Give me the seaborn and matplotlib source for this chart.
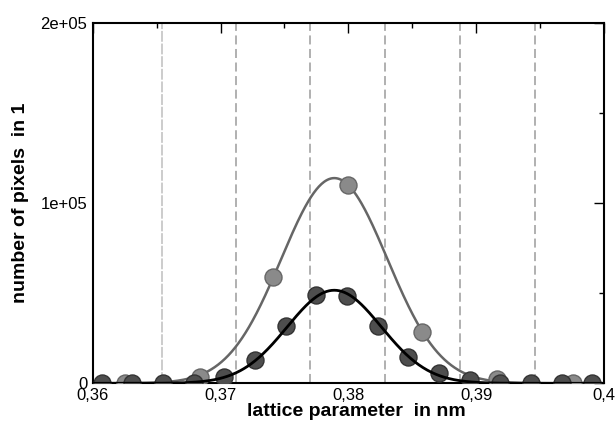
import numpy as np
import pandas as pd
import matplotlib
matplotlib.use("Agg")
import matplotlib.pyplot as plt
from matplotlib.ticker import FixedLocator
import seaborn as sns

# Fine-sampled histogram (black fit)
fine_x = [0.3607, 0.3631, 0.3655, 0.3679, 0.3703, 0.3727, 0.3751, 0.3775, 0.3799,
          0.3823, 0.3847, 0.3871, 0.3895, 0.3919, 0.3943, 0.3967, 0.3991]
fine_counts = [0, 0, 0, 300, 3300, 12900, 31900, 49300, 48500,
               31900, 14700, 5500, 1800, 300, 0, 0, 0]

# Coarse histogram (grey fit), bin centres
coarse_x = [0.3625, 0.3684, 0.3741, 0.3800, 0.3858, 0.3916, 0.3976]
coarse_counts = [0, 3600, 58900, 110400, 28400, 2300, 0]

# Coarse bin edges
bin_edges = [0.3654, 0.3712, 0.3770, 0.3829, 0.3887, 0.3946]

# Gaussian fit parameters: amplitude, centre, sigma
fine_fit = (51700, 0.3789, 0.00368)
coarse_fit = (114000, 0.3789, 0.00415)

x_ticks = [0.36, 0.37, 0.38, 0.39, 0.40]
x_tick_labels = ["0,36", "0,37", "0,38", "0,39", "0,4"]
y_ticks = [0, 100000, 200000]
y_tick_labels = ["0", "1e+05", "2e+05"]


def gauss_curve(params, xs):
    a, mu, sig = params
    return a * np.exp(-0.5 * ((xs - mu) / sig) ** 2)


xs = np.linspace(0.36, 0.40, 600)
fit_df = pd.DataFrame({
    "x": xs,
    "fine": gauss_curve(fine_fit, xs),
    "coarse": gauss_curve(coarse_fit, xs),
})
fine_df = pd.DataFrame({"x": fine_x, "n": fine_counts})
coarse_df = pd.DataFrame({"x": coarse_x, "n": coarse_counts})

sns.set_theme(style="white")
plt.rcParams["font.family"] = ["Liberation Sans", "DejaVu Sans"]

fig = plt.figure(figsize=(6.16, 4.25), dpi=100)
ax = fig.add_axes([0.1505, 0.0981, 0.8300, 0.8471])

# bin edges
for i, e in enumerate(bin_edges):
    if i == 0:
        ax.axvline(e, color="#c8c8c8", lw=1.3, ls=(0, (6, 1)), zorder=1)
    else:
        ax.axvline(e, color="#aaaaaa", lw=1.3, ls=(0, (5, 2.5)), zorder=1)

sns.lineplot(data=fit_df, x="x", y="coarse", ax=ax, color="#666666", lw=1.8, zorder=2)
sns.scatterplot(data=coarse_df, x="x", y="n", ax=ax, s=150, color="#8a8a8a",
                edgecolor="#666666", linewidth=1.0, zorder=3)
sns.scatterplot(data=fine_df, x="x", y="n", ax=ax, s=150, color="#4e4e4e",
                edgecolor="#333333", linewidth=1.0, zorder=4)
sns.lineplot(data=fit_df, x="x", y="fine", ax=ax, color="black", lw=2.0, zorder=5)

ax.set_xlim(0.36, 0.40)
ax.set_ylim(0, 200000)

ax.xaxis.set_major_locator(FixedLocator(x_ticks))
ax.xaxis.set_minor_locator(FixedLocator([0.365, 0.375, 0.385, 0.395]))
ax.set_xticklabels(x_tick_labels)
ax.yaxis.set_major_locator(FixedLocator(y_ticks))
ax.yaxis.set_minor_locator(FixedLocator([50000, 150000]))
ax.set_yticklabels(y_tick_labels)

ax.tick_params(which="both", direction="in", top=True, right=True,
               labelsize=12, colors="black", width=1.0, pad=4)
ax.tick_params(which="major", length=7)
ax.tick_params(which="minor", length=3.5)
ax.tick_params(axis="x", which="major", pad=3.5)

for sp in ax.spines.values():
    sp.set_linewidth(1.5)
    sp.set_color("black")
    sp.set_visible(True)

ax.set_xlabel("lattice parameter  in nm", fontsize=14, fontweight="bold", color="black")
ax.set_ylabel("number of pixels  in 1", fontsize=14, fontweight="bold", color="black")
ax.xaxis.set_label_coords(0.515, -0.055)
ax.yaxis.set_label_coords(-0.125, 0.5)

fig.savefig("out.png", dpi=100)
